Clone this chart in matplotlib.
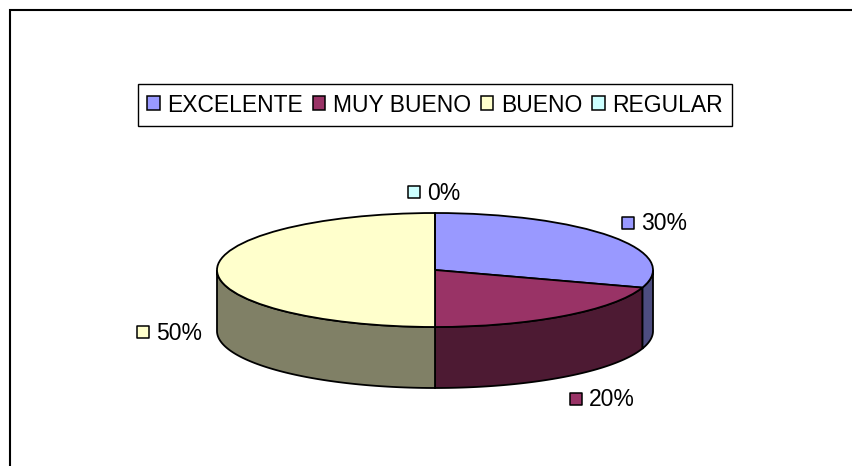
import numpy as np
import matplotlib
matplotlib.use('Agg')
import matplotlib.pyplot as plt

plt.rcParams['font.family'] = ['Liberation Sans', 'DejaVu Sans']

categories = ['EXCELENTE', 'MUY BUENO', 'BUENO', 'REGULAR']
values = [30, 20, 50, 0]
top_colors = ['#9999FF', '#993366', '#FFFFCC', '#CCFFFF']
side_colors = ['#4D4D80', '#4D1A33', '#808066', '#668080']

W, H = 852, 466
cx, cy, rx, ry, depth = 435, 270, 218, 57, 61

fig = plt.figure(figsize=(W / 100, H / 100), dpi=100, facecolor='white')

# pie axes: one data unit is rx pixels across and ry pixels down, which squashes the pie
ax = fig.add_axes([0, 0, 1, 1])
wedges, _ = ax.pie(values, colors=top_colors, startangle=90, counterclock=False, radius=1,
	wedgeprops={'edgecolor': 'black', 'linewidth': 1.3, 'zorder': 3})
ax.set_aspect('auto')
ax.set_xlim(-cx / rx, (W - cx) / rx)
ax.set_ylim((cy - H) / ry, cy / ry)
ax.axis('off')

# walls of the cylinder, only the part of each slice facing the viewer
d = depth / ry
start = 0
for v, col in zip(values, side_colors):
	end = start + v * 3.6
	a0, a1 = max(start, 90), min(end, 270)
	if a1 > a0:
		t = np.radians(np.linspace(a0, a1, 80))
		x, y = np.sin(t), np.cos(t)
		ax.fill(np.r_[x, x[::-1]], np.r_[y, y[::-1] - d], facecolor=col, edgecolor='black', linewidth=1.3, zorder=2)
	start = end

# overlay in pixel coordinates for the frame, legend and labels
ov = fig.add_axes([0, 0, 1, 1])
ov.set_xlim(0, W)
ov.set_ylim(H, 0)
ov.axis('off')
ov.patch.set_alpha(0)

ov.plot([W, 9.5, 9.5], [9.5, 9.5, H], color='black', linewidth=1.5, solid_joinstyle='miter')

label_keys = [(622, 223), (570, 399), (137, 332), (408, 192)]
for v, col, (kx, ky) in zip(values, top_colors, label_keys):
	ov.scatter([kx + 6], [ky], marker='s', s=68, facecolor=col, edgecolor='black', linewidth=1.1, zorder=4)
	ov.text(kx + 19, ky + 1, f'{v}%', fontsize=16.5, va='center', ha='left', color='black')

handles = [plt.Rectangle((0, 0), 1, 1, facecolor=c, edgecolor='black', linewidth=1.1) for c in top_colors]
ov.legend(handles, categories, ncol=4, loc='center', bbox_to_anchor=(435, 105),
	bbox_transform=ov.transData, fontsize=16.5, fancybox=False, framealpha=1, edgecolor='black',
	handlelength=0.55, handleheight=0.55, handletextpad=0.33, columnspacing=0.42,
	borderpad=0.4, borderaxespad=0)

fig.savefig('out.png', dpi=100)
